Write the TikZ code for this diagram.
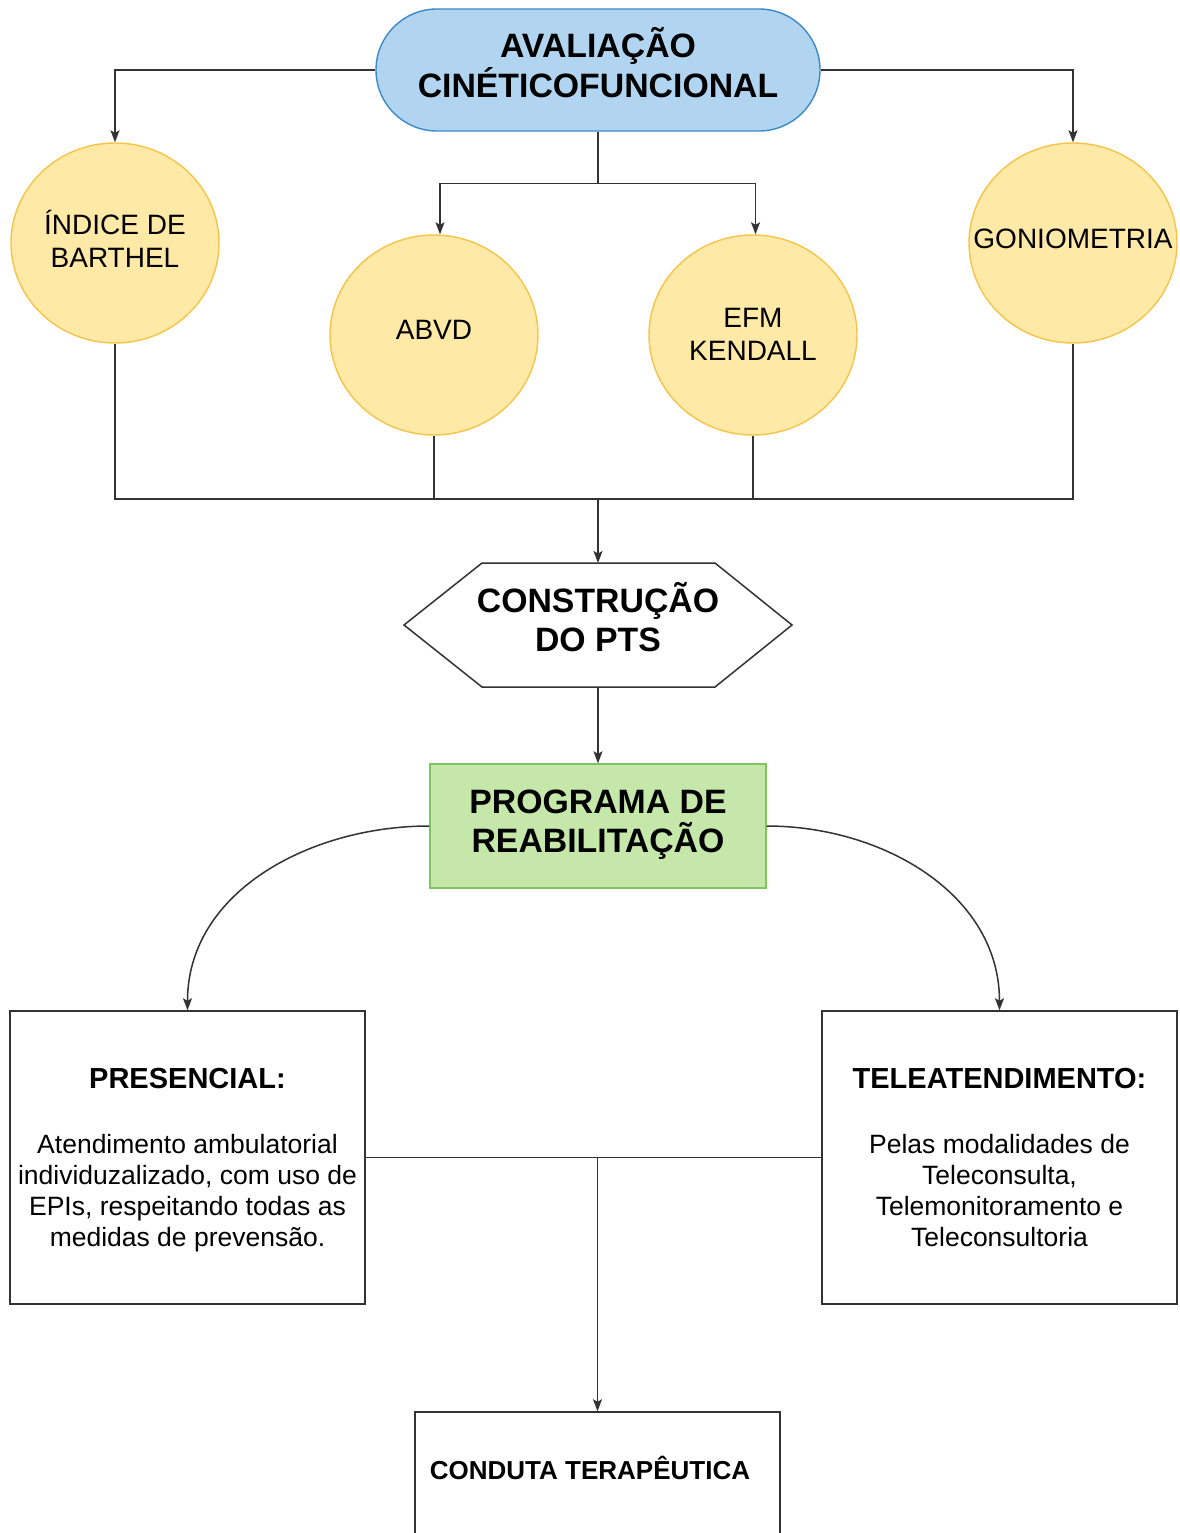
\documentclass[tikz,border=0pt]{standalone}
\usepackage{fontspec}
\setmainfont{Liberation Sans}
\usetikzlibrary{shapes.geometric,arrows.meta,calc}
\definecolor{linec}{RGB}{51,51,51}
\definecolor{bluF}{RGB}{177,213,240}
\definecolor{bluB}{RGB}{59,138,200}
\definecolor{yelF}{RGB}{255,233,166}
\definecolor{yelB}{RGB}{246,196,72}
\definecolor{grnF}{RGB}{197,231,170}
\definecolor{grnB}{RGB}{127,196,96}
\begin{document}
\begin{tikzpicture}[x=1pt,y=-1pt,
  line/.style={draw=linec, line width=1.5pt},
  arr/.style={line, -{Stealth[length=12pt,width=9pt,inset=2.5pt]}},
  circ/.style={ellipse, draw=yelB, fill=yelF, line width=1.4pt, minimum width=208pt, minimum height=200pt, inner sep=0pt},
  boxst/.style={rectangle, draw=linec, fill=white, line width=1.5pt, inner sep=0pt},
  big/.style={font=\bfseries\fontsize{33.8}{39.5}\selectfont, align=center, inner sep=0pt, text=black},
  clbl/.style={font=\fontsize{28}{33}\selectfont, align=center, inner sep=0pt, text=black},
  body/.style={font=\fontsize{26.5}{31}\selectfont, align=center, inner sep=0pt, text=black},
  hd/.style={font=\bfseries\fontsize{26}{31}\selectfont, align=center, inner sep=0pt, text=black}
]
\fill[white] (0,0) rectangle (1179,1533);
\useasboundingbox (0,0) rectangle (1179,1533);

% top
\node[rectangle, rounded corners=61pt, draw=bluB, fill=bluF, line width=1.4pt,
      minimum width=444pt, minimum height=122pt, inner sep=0pt,
      label={[big, yshift=7.5pt]center:{AVALIAÇÃO\\CINÉTICOFUNCIONAL}}] (aval) at (598,70) {};

% circles
\node[circ, label={[clbl, yshift=4.5pt]center:{ÍNDICE DE\\BARTHEL}}] (barth) at (115,243) {};
\node[circ, label={[clbl, yshift=5.5pt]center:{ABVD}}] (abvd) at (434,335) {};
\node[circ, label={[clbl, yshift=1pt]center:{EFM\\KENDALL}}] (efm) at (753,335) {};
\node[circ, label={[clbl, yshift=4.5pt]center:{GONIOMETRIA}}] (gonio) at (1073,243) {};

% hexagon
\node[minimum width=388pt, minimum height=124pt, inner sep=0pt, outer sep=0pt] (pts) at (598,625) {};
\draw[line, line join=miter] (pts.west) -- ($(pts.north west)+(78,0)$) -- ($(pts.north east)+(-77,0)$)
   -- (pts.east) -- ($(pts.south east)+(-77,0)$) -- ($(pts.south west)+(78,0)$) -- cycle;
\node[big, yshift=8pt] (ptstext) at (pts.center) {CONSTRUÇÃO\\DO PTS};

% program
\node[rectangle, draw=grnB, fill=grnF, line width=1.4pt, minimum width=336pt, minimum height=124pt, inner sep=0pt,
      label={[big, yshift=1.5pt]center:{PROGRAMA DE\\REABILITAÇÃO}}] (prog) at (598,826) {};

% modalities
\node[boxst, minimum width=355pt, minimum height=293pt,
      label={[body, yshift=-2.5pt]center:{{\bfseries\fontsize{29}{35}\selectfont PRESENCIAL:}\\[34pt]Atendimento ambulatorial\\individuzalizado, com uso de\\EPIs, respeitando todas as\\medidas de prevensão.}}] (pres) at (187.5,1157.5) {};
\node[boxst, minimum width=355pt, minimum height=293pt,
      label={[body, yshift=0pt]center:{{\bfseries\fontsize{29}{35}\selectfont TELEATENDIMENTO:}\\[34pt]Pelas modalidades de\\Teleconsulta,\\Telemonitoramento e\\Teleconsultoria}}] (tele) at (999.5,1157.5) {};

% conduta
\node[boxst, minimum width=365pt, minimum height=160pt,
      label={[hd, xshift=-7.5pt, yshift=24pt]center:{CONDUTA TERAPÊUTICA}}] (cond) at (597.5,1492) {};

% connectors
\draw[arr] (aval.west) -| (barth.north);
\draw[arr] (aval.east) -| (gonio.north);
\coordinate (split) at ($(aval.south)+(0,52)$);
\draw[line] (aval.south) -- (split);
\draw[arr] (split) -| ($(abvd.north)+(6,0)$);
\draw[arr] (split) -| ($(efm.north)+(2.5,0)$);

\coordinate (bus) at (598,499);
\draw[line] (barth.south) |- (bus) -| (gonio.south);
\draw[line] (abvd.south) -- (abvd.south |- bus);
\draw[line] (efm.south) -- (efm.south |- bus);
\draw[arr] (bus) -- (pts.north);
\draw[arr] (pts.south) -- (prog.north);

\draw[arr] (prog.west) to[out=180,in=90] (pres.north);
\draw[arr] (prog.east) to[out=0,in=90] (tele.north);

\draw[line] (pres.east) -- (tele.west);
\coordinate (mid) at (cond.north |- pres.east);
\draw[arr] (mid) -- (cond.north);
\end{tikzpicture}
\end{document}
